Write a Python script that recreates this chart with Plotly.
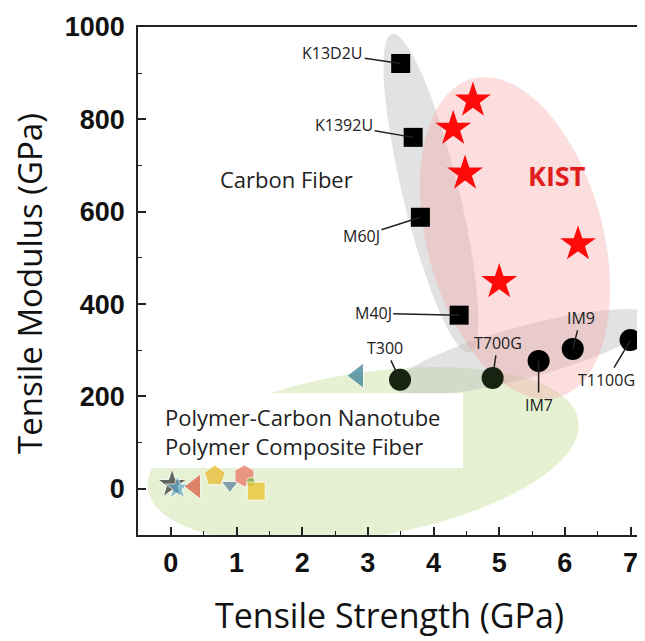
import numpy as np
import plotly.graph_objects as go

# ---- data ----
cf_names = ["K13D2U", "K1392U", "M60J", "M40J"]
cf_strength = [3.50, 3.69, 3.80, 4.39]
cf_modulus = [921, 761, 588, 376]

ct_names = ["T300", "T700G", "IM7", "IM9", "T1100G"]
ct_strength = [3.49, 4.90, 5.60, 6.12, 7.00]
ct_modulus = [236, 240, 277, 303, 322]

kist_strength = [4.60, 4.30, 4.48, 6.20, 5.00]
kist_modulus = [841, 780, 683, 530, 448]

cnt_strength = [0.02, 0.10, 0.37, 0.67, 0.90, 1.12, 1.22, 1.30, 2.85]
cnt_modulus = [10, 2, 5, 28, 8, 28, 15, -5, 245]
cnt_symbols = ["star", "star", "triangle-left", "pentagon", "triangle-down",
               "hexagon", "circle", "square", "triangle-left"]
cnt_colors = ["#2b2b2b", "#5fa8c8", "#d9553d", "#e9b824", "#5c7a99",
              "#ec6f5e", "#7cc04a", "#e9c020", "#2f7b95"]
cnt_sizes = [22, 18, 22, 22, 15, 22, 9, 18, 22]

x_ticks = [0, 1, 2, 3, 4, 5, 6, 7]
y_ticks = [0, 200, 400, 600, 800, 1000]

# ---- geometry (page pixels; the page body has an 8px margin) ----
OFF = 8
PL, PT, PR, PB = 138, 27, 645, 535          # plot area in page pixels
W, H = 645 - OFF, 641 - OFF                 # figure size
XR = [-0.5, 7.22]
YR = [-100, 1000]
pxx = (PR - PL) / (XR[1] - XR[0])
pxy = (PB - PT) / (YR[1] - YR[0])


def ellipse_path(cx, cy, a, b, theta_deg, n=90):
    th = np.radians(theta_deg)
    t = np.linspace(0, 2 * np.pi, n)
    dpx = a * np.cos(t) * np.cos(th) - b * np.sin(t) * np.sin(th)
    dpy = a * np.cos(t) * np.sin(th) + b * np.sin(t) * np.cos(th)
    xs = cx + dpx / pxx
    ys = cy - dpy / pxy
    return "M " + " L ".join(f"{x:.4f},{y:.3f}" for x, y in zip(xs, ys)) + " Z"


def px_to_paper(px, py):
    return (px - PL) / (PR - PL), (PB - py) / (PB - PT)


fig = go.Figure()

shapes = [
    dict(type="path", path=ellipse_path(2.93, 73, 218, 82, -9.2), fillcolor="rgba(205,228,170,0.5)",
         line=dict(width=0), layer="below"),
    dict(type="path", path=ellipse_path(3.96, 640, 164, 28, 76.3), fillcolor="rgba(190,190,190,0.45)",
         line=dict(width=0), layer="below"),
    dict(type="path", path=ellipse_path(5.39, 296, 135, 26, -15), fillcolor="rgba(190,190,190,0.45)",
         line=dict(width=0), layer="below"),
    dict(type="path", path=ellipse_path(5.24, 543, 165, 88, 75), fillcolor="rgba(245,160,160,0.35)",
         line=dict(width=0), layer="below"),
    dict(type="rect", xref="x", yref="y", x0=-0.348, x1=4.45, y0=45, y1=207,
         fillcolor="white", line=dict(width=0), layer="below"),
]

fig.add_trace(go.Scatter(x=cf_strength, y=cf_modulus, mode="markers",
                         marker=dict(symbol="square", size=19, color="black"),
                         showlegend=False, hoverinfo="skip"))
fig.add_trace(go.Scatter(x=ct_strength, y=ct_modulus, mode="markers",
                         marker=dict(symbol="circle", size=22,
                                     color=["#17240f", "#17240f", "black", "black", "black"]),
                         showlegend=False, hoverinfo="skip"))
fig.add_trace(go.Scatter(x=kist_strength, y=kist_modulus, mode="markers",
                         marker=dict(symbol="star", size=27, color="#ff0a0a"),
                         showlegend=False, hoverinfo="skip"))
fig.add_trace(go.Scatter(x=cnt_strength, y=cnt_modulus, mode="markers",
                         marker=dict(symbol=cnt_symbols, size=cnt_sizes, color=cnt_colors),
                         showlegend=False, hoverinfo="skip"))

FONT = "Open Sans, Lato, sans-serif"
lab_font = dict(family=FONT, size=16, color="#222")
cf_off = [(-68, -10), (-69, -12), (-59, 19), (-86, -2)]
ct_off = [(-15, -32), (5, -35), (0, 44), (8, -31), (-24, 40)]
annotations = []
for n, x, y, (ax, ay) in zip(cf_names, cf_strength, cf_modulus, cf_off):
    annotations.append(dict(x=x, y=y, text=n, showarrow=True, arrowhead=0, arrowwidth=1.5,
                            arrowcolor="#222", ax=ax, ay=ay, font=lab_font))
for n, x, y, (ax, ay) in zip(ct_names, ct_strength, ct_modulus, ct_off):
    annotations.append(dict(x=x, y=y, text=n, showarrow=True, arrowhead=0, arrowwidth=1.5,
                            arrowcolor="#222", ax=ax, ay=ay, font=lab_font))


def paper_text(px, py, text, font, **kw):
    x, y = px_to_paper(px, py)
    d = dict(x=x, y=y, xref="paper", yref="paper", text=text, showarrow=False,
             xanchor="center", yanchor="middle", font=font)
    d.update(kw)
    return d


big_font = dict(family=FONT, size=22, color="#222")
annotations += [
    paper_text(218, 179, "Carbon Fiber", big_font, xanchor="left"),
    paper_text(557, 175, "<b>KIST</b>", dict(family=FONT, size=27, color="#e01e1e")),
    paper_text(163, 431, "Polymer-Carbon Nanotube<br>Polymer Composite Fiber", big_font,
               xanchor="left", align="left"),
    paper_text(29, 284, "Tensile Modulus (GPa)", dict(family=FONT, size=33, color="#111"),
               textangle=-90),
    paper_text(389, 615, "Tensile Strength (GPa)", dict(family=FONT, size=34, color="#111")),
]

tick_font = dict(family="Liberation Sans, Arial, sans-serif", size=27, color="#111")
fig.update_layout(
    width=W, height=H,
    margin=dict(l=PL - OFF, r=W - (PR - OFF), t=PT - OFF, b=H - (PB - OFF), autoexpand=False),
    plot_bgcolor="white", paper_bgcolor="white",
    shapes=shapes, annotations=annotations,
    xaxis=dict(range=XR, tickvals=x_ticks, ticktext=[f"<b>{v}</b>" for v in x_ticks],
               showgrid=False, zeroline=False, showline=True, linecolor="#222", linewidth=1.5,
               mirror=True, ticks="inside", ticklen=8, tickwidth=1.5, tickcolor="#222",
               minor=dict(dtick=0.5, tick0=0, ticks="inside", ticklen=4, tickwidth=1.2, tickcolor="#222"),
               tickfont=tick_font, ticklabelstandoff=3),
    yaxis=dict(range=YR, tickvals=y_ticks, ticktext=[f"<b>{v}</b>" for v in y_ticks],
               showgrid=False, zeroline=False, showline=True, linecolor="#222", linewidth=1.5,
               ticks="inside", ticklen=8, tickwidth=1.5, tickcolor="#222",
               minor=dict(dtick=100, tick0=0, ticks="inside", ticklen=4, tickwidth=1.2, tickcolor="#222"),
               tickfont=tick_font, ticklabelstandoff=6),
)

fig.write_html("out.html")
